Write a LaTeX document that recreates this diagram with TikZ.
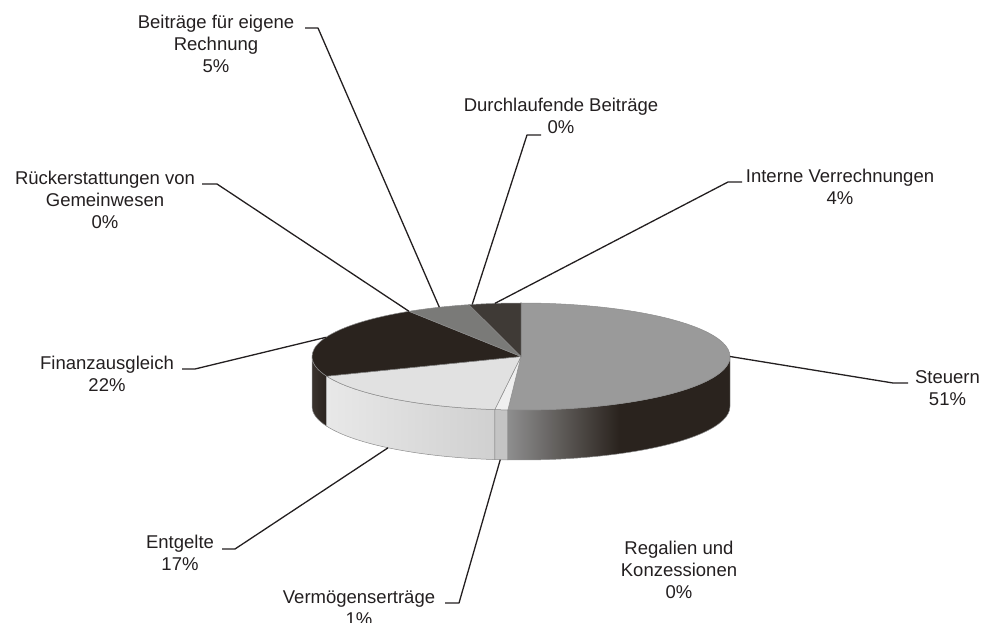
\documentclass[tikz,border=0pt]{standalone}
\usepackage{fontspec}
\setmainfont{Liberation Sans}
\usetikzlibrary{calc}
\definecolor{txt}{HTML}{231F20}
\definecolor{stTop}{HTML}{9A9A9A}
\definecolor{stWallL}{HTML}{8E8E8E}
\definecolor{stDark}{HTML}{2A231E}
\definecolor{vmTop}{HTML}{EFEFEF}
\definecolor{vmWall}{HTML}{C4C4C4}
\definecolor{enTop}{HTML}{E1E1E1}
\definecolor{enWallL}{HTML}{E8E8E8}
\definecolor{enWallR}{HTML}{D0D0D0}
\definecolor{fiDark}{HTML}{2A231E}
\definecolor{fiWallL}{HTML}{3A332E}
\definecolor{beTop}{HTML}{7A7A78}
\definecolor{inTop}{HTML}{3F3A36}
\newcommand\lbltab[1]{\begin{tabular}[t]{@{}c@{}}#1\end{tabular}}
\tikzset{
  lbl/.style={anchor=base, inner sep=0pt, text=txt, font=\fontsize{18.5}{22}\selectfont},
  leader/.style={draw=txt, line width=1.3pt, line join=round},
  slice/.style={draw=black!45, line width=0.5pt, line join=round},
}
\begin{document}
\begin{tikzpicture}[x=1pt,y=1pt]
\useasboundingbox (0,0) rectangle (986,622);
\coordinate (C) at (521,265.5);
\coordinate (B) at (521,215.5);

% ---- side walls (front half) ----
\shadedraw[slice, left color=fiWallL, right color=fiDark]
  ($(C)+(-180:209 and 53.5)$) arc[start angle=-180, end angle=-158.4, x radius=209, y radius=53.5]
  -- ($(B)+(-158.4:209 and 53.5)$) arc[start angle=-158.4, end angle=-180, x radius=209, y radius=53.5] -- cycle;
\shadedraw[slice, left color=enWallL, right color=enWallR]
  ($(C)+(-158.4:209 and 53.5)$) arc[start angle=-158.4, end angle=-97.2, x radius=209, y radius=53.5]
  -- ($(B)+(-97.2:209 and 53.5)$) arc[start angle=-97.2, end angle=-158.4, x radius=209, y radius=53.5] -- cycle;
\filldraw[slice, fill=vmWall]
  ($(C)+(-97.2:209 and 53.5)$) arc[start angle=-97.2, end angle=-93.6, x radius=209, y radius=53.5]
  -- ($(B)+(-93.6:209 and 53.5)$) arc[start angle=-93.6, end angle=-97.2, x radius=209, y radius=53.5] -- cycle;
\shadedraw[slice, left color=stWallL, right color=stDark, middle color=stDark]
  ($(C)+(-93.6:209 and 53.5)$) arc[start angle=-93.6, end angle=0, x radius=209, y radius=53.5]
  -- ($(B)+(0:209 and 53.5)$) arc[start angle=0, end angle=-93.6, x radius=209, y radius=53.5] -- cycle;

% ---- top faces ----
\filldraw[slice, fill=stTop] (C) -- ($(C)+(-93.6:209 and 53.5)$)
  arc[start angle=-93.6, end angle=90, x radius=209, y radius=53.5] -- cycle;
\filldraw[slice, fill=vmTop] (C) -- ($(C)+(-97.2:209 and 53.5)$)
  arc[start angle=-97.2, end angle=-93.6, x radius=209, y radius=53.5] -- cycle;
\filldraw[slice, fill=enTop] (C) -- ($(C)+(-158.4:209 and 53.5)$)
  arc[start angle=-158.4, end angle=-97.2, x radius=209, y radius=53.5] -- cycle;
\filldraw[slice, fill=fiDark] (C) -- ($(C)+(122.4:209 and 53.5)$)
  arc[start angle=122.4, end angle=201.6, x radius=209, y radius=53.5] -- cycle;
\filldraw[slice, fill=beTop] (C) -- ($(C)+(104.4:209 and 53.5)$)
  arc[start angle=104.4, end angle=122.4, x radius=209, y radius=53.5] -- cycle;
\filldraw[slice, fill=inTop] (C) -- ($(C)+(90:209 and 53.5)$)
  arc[start angle=90, end angle=104.4, x radius=209, y radius=53.5] -- cycle;

% ---- points on the pie ----
\coordinate (pSteuern) at ($(C)+(0:209 and 53.5)$);
\coordinate (pFinanz)  at ($(C)+(159:209 and 53.5)$);
\coordinate (pRueck)   at ($(C)+(122.4:209 and 53.5)$);
\coordinate (pBeitr)   at ($(C)+(113:209 and 53.5)$);
\coordinate (pDurch)   at ($(C)+(103.5:209 and 53.5)$);
\coordinate (pIntern)  at ($(C)+(97.2:209 and 53.5)$);
\coordinate (pEnt)     at ($(B)+(-129.5:209 and 53.5)$);
\coordinate (pVerm)    at ($(B)+(-95.7:209 and 53.5)$);

% ---- labels ----
\node[lbl] (lBeitr)  at (216,593.5) {\lbltab{Beiträge für eigene\\Rechnung\\5\%}};
\node[lbl] (lDurch)  at (561,510.5) {\lbltab{Durchlaufende Beiträge\\0\%}};
\node[lbl] (lIntern) at (840,439)   {\lbltab{Interne Verrechnungen\\4\%}};
\node[lbl] (lRueck)  at (105,437.5) {\lbltab{Rückerstattungen von\\Gemeinwesen\\0\%}};
\node[lbl] (lFinanz) at (107,252.5) {\lbltab{Finanzausgleich\\22\%}};
\node[lbl] (lSteuern) at (947.5,238) {\lbltab{Steuern\\51\%}};
\node[lbl] (lEnt)    at (180,73.5)  {\lbltab{Entgelte\\17\%}};
\node[lbl] (lVerm)   at (359,18.5)  {\lbltab{Vermögenserträge\\1\%}};
\node[lbl] (lRegal)  at (679,67.5)  {\lbltab{Regalien und\\Konzessionen\\0\%}};

% ---- leader end points ----
\coordinate (kBeitrA) at (305,594);  \coordinate (kBeitrB) at (318,594);
\coordinate (kDurchA) at (541,487);  \coordinate (kDurchB) at (527,487);
\coordinate (kInternA) at (742,440); \coordinate (kInternB) at (728,440);
\coordinate (kRueckA) at (202,438);  \coordinate (kRueckB) at (217,438);
\coordinate (kFinanzA) at (182,253); \coordinate (kFinanzB) at (195,253);
\coordinate (kSteuernA) at (908,239); \coordinate (kSteuernB) at (893,239);
\coordinate (kEntA) at (222,73);     \coordinate (kEntB) at (235,73);
\coordinate (kVermA) at (445,19);    \coordinate (kVermB) at (459,19);

\draw[leader] (kBeitrA) -- (kBeitrB) -- (pBeitr);
\draw[leader] (kDurchA) -- (kDurchB) -- (pDurch);
\draw[leader] (kInternA) -- (kInternB) -- (pIntern);
\draw[leader] (kRueckA) -- (kRueckB) -- (pRueck);
\draw[leader] (kFinanzA) -- (kFinanzB) -- (pFinanz);
\draw[leader] (kSteuernA) -- (kSteuernB) -- (pSteuern);
\draw[leader] (kEntA) -- (kEntB) -- (pEnt);
\draw[leader] (kVermA) -- (kVermB) -- (pVerm);
\end{tikzpicture}
\end{document}
